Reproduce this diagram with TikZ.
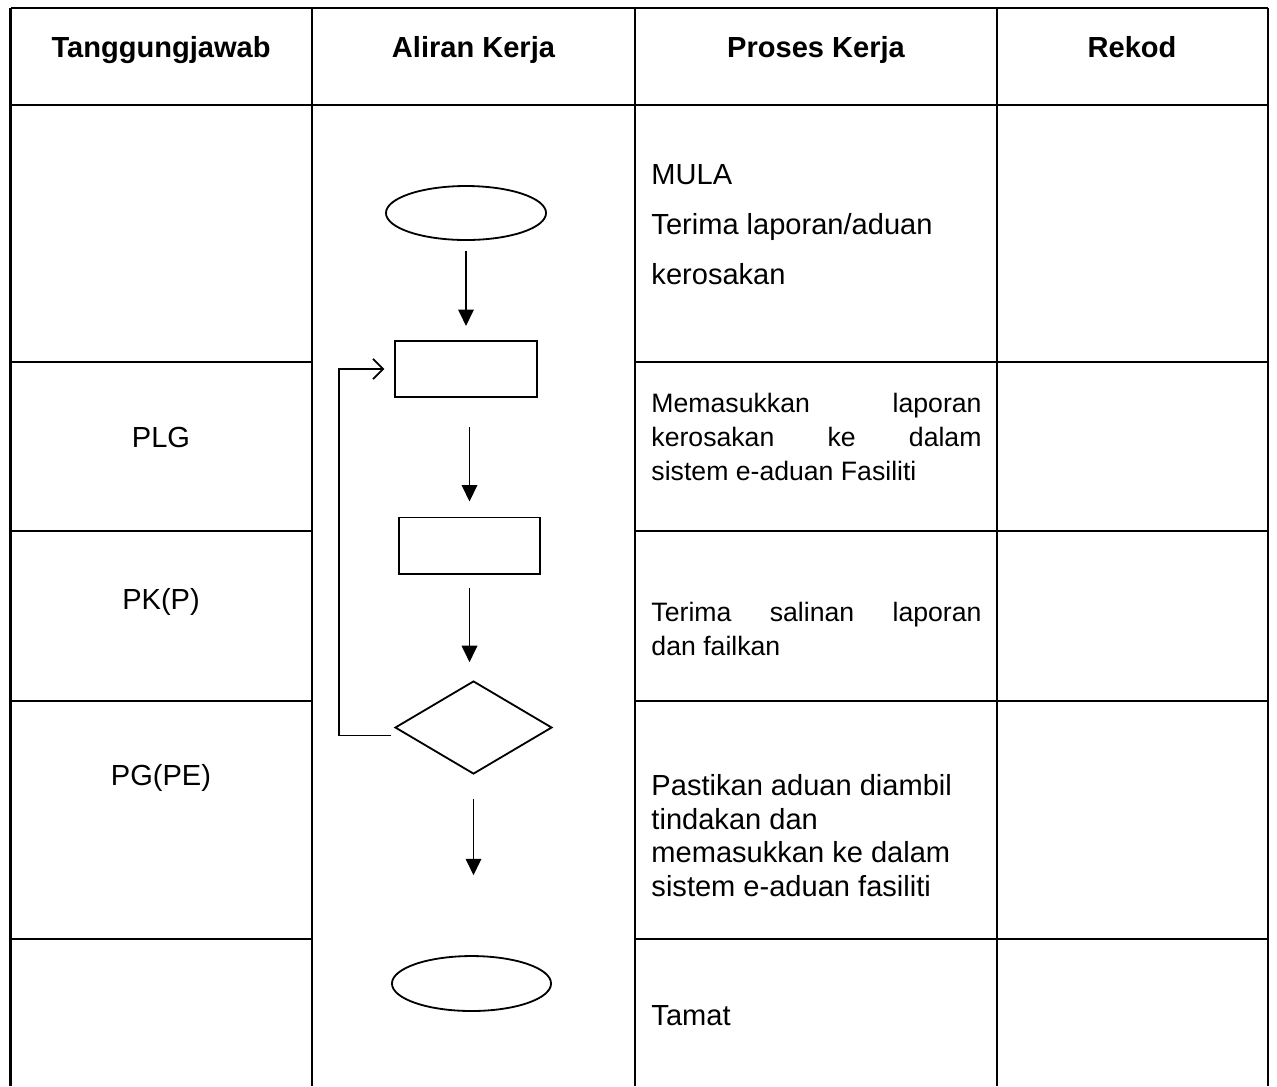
\documentclass[tikz,border=0pt]{standalone}
\usepackage{fontspec}
\setmainfont{Liberation Sans}
\usetikzlibrary{shapes.geometric, arrows.meta}

\tikzset{
  grid/.style={line width=1pt},
  head/.style={font=\fontsize{12}{14}\selectfont\bfseries, anchor=base},
  who/.style={font=\fontsize{12}{14}\selectfont, anchor=base},
  proc/.style={font=\fontsize{11}{14.05}\selectfont, anchor=north west, inner sep=0pt},
  terminal/.style={ellipse, draw, line width=0.75pt, inner sep=0pt},
  boxstep/.style={rectangle, draw, line width=0.75pt, inner sep=0pt, minimum width=58.4pt, minimum height=23.2pt},
  choice/.style={diamond, draw, line width=0.75pt, inner sep=0pt, minimum width=64.8pt, minimum height=38.4pt},
  arr/.style={line width=0.75pt, -{Triangle[width=6.4pt,length=6.8pt]}},
  back/.style={line width=0.75pt, -{Straight Barb[width=8.3pt,length=4.2pt]}}
}

\begin{document}
\begin{tikzpicture}[x=0.413pt, y=-0.413pt]
    \useasboundingbox (0,0) rectangle (1277,1086);

    % table
    \draw[grid] (10.5,8) -- (1268,8);
    \draw[grid] (10.5,105) -- (1268,105);
    \foreach \x in {10.5, 312, 635, 997, 1268}
        \draw[grid] (\x,8) -- (\x,1086);
    \foreach \y in {362, 531, 701, 939} {
        \draw[grid] (10.5,\y) -- (312,\y);
        \draw[grid] (635,\y) -- (1268,\y);
    }

    \node[head] (hwho) at (161,57) {Tanggungjawab};
    \node[head] (hflow) at (473.5,57) {Aliran Kerja};
    \node[head] (hproc) at (816,57) {Proses Kerja};
    \node[head] (hrec) at (1132,57) {Rekod};

    \node[who] (plg) at (161,447) {PLG};
    \node[who] (pkp) at (161,609) {PK(P)};
    \node[who] (pgpe) at (161,785) {PG(PE)};

    \node[proc, align=left, font=\fontsize{12}{20.65}\selectfont] (tmula) at (651,164)
        {MULA\\ Terima laporan/aduan\\ kerosakan};
    \node[proc, text width=136.3pt, align=justify] (tmasuk) at (651,393)
        {Memasukkan laporan\linebreak kerosakan ke dalam\linebreak sistem e-aduan Fasiliti};
    \node[proc, text width=136.3pt, align=justify] (tsalin) at (651,602)
        {Terima salinan laporan\linebreak dan failkan};
    \node[proc, align=left, font=\fontsize{12}{13.85}\selectfont] (tpasti) at (651,774)
        {Pastikan aduan diambil\\ tindakan dan\\ memasukkan ke dalam\\ sistem e-aduan fasiliti};
    \node[who, anchor=base west, inner sep=0pt] (ttamat) at (651,1025) {Tamat};

    % flow
    \node[terminal, minimum width=66.1pt, minimum height=22.3pt] (start) at (466,213) {};
    \node[boxstep] (enter) at (466,369) {};
    \node[boxstep] (copy) at (469.5,545.5) {};
    \node[choice] (check) at (473.5,727.5) {};
    \node[terminal, minimum width=65.7pt, minimum height=22.7pt] (stop) at (471.5,983.5) {};

    \draw[arr, shorten <=4.1pt, shorten >=5.8pt] (start) -- (start |- enter.north);
    \draw[arr, shorten <=12pt, shorten >=6.2pt] (copy |- enter.south) -- (copy);
    \draw[arr, shorten <=5.4pt, shorten >=7.4pt] (copy) -- (copy |- check.north);
    \draw[arr, shorten <=9.9pt, shorten >=33pt] (check) -- (check |- stop.north);
    \draw[back, shorten <=1.2pt, shorten >=4.1pt] ([yshift=-3.3pt]check.west) -- ++(-55,0) |- (enter.west);
\end{tikzpicture}
\end{document}
